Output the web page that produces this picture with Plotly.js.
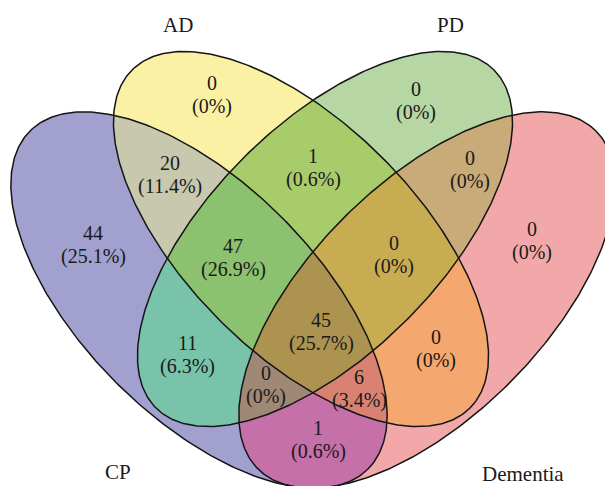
<!DOCTYPE html>
<html><head><meta charset="utf-8">
<script src="https://cdn.plot.ly/plotly-3.0.1.min.js"></script>
<style>html,body{margin:0;padding:0;background:#fff;} #chart{width:605px;height:486px;}</style>
</head><body><div id="chart"></div>
<script>
// ---- data ----
const setNames = ['CP', 'AD', 'PD', 'Dementia'];
// region id = bitmask of membership: CP=1, AD=2, PD=4, Dementia=8
const regionMasks  = [1, 2, 3, 4, 5, 6, 7, 8, 9, 10, 11, 12, 13, 14, 15];
const regionCounts = [44, 0, 20, 0, 11, 1, 47, 0, 1, 0, 6, 0, 0, 0, 45];

// ---- styles / geometry (pixel units) ----
const regionColors = ['#ffffff', '#a1a0cf', '#fbf1a5', '#c8c8ae', '#b6d7a3', '#78c3a9', '#a9cc6b', '#8bc16f',
                      '#f2a8a8', '#c570a9', '#f4a86f', '#d98271', '#c9aa79', '#a08877', '#c8ac52', '#ad9350'];
const ellipseGeom = [
  {cx: 199, cy: 300, a: 239, b: 117, ang: 45},
  {cx: 301, cy: 239, a: 239, b: 115, ang: 45},
  {cx: 325, cy: 239, a: 239, b: 115, ang: -45},
  {cx: 427, cy: 300, a: 239, b: 117, ang: -45}
];
const setLabelPos = [[118, 472], [178, 25], [450, 25], [523, 474]];
const regionLabelPos = {
  1: [93, 233], 2: [212, 83], 3: [170, 163], 4: [416, 89], 5: [187, 343], 6: [313, 156], 7: [233, 246],
  8: [532, 229], 9: [318, 428], 10: [436, 337], 11: [359, 377], 12: [470, 158], 13: [266, 373],
  14: [394, 243], 15: [321, 320]
};

const W = 605, H = 486;
function inside(e, x, y) {
  const t = e.ang * Math.PI / 180, dx = x - e.cx, dy = y - e.cy;
  const u = dx * Math.cos(t) + dy * Math.sin(t);
  const v = -dx * Math.sin(t) + dy * Math.cos(t);
  return (u * u) / (e.a * e.a) + (v * v) / (e.b * e.b) <= 1;
}
const xs = [], ys = [];
for (let i = 0; i < W; i++) xs.push(i + 0.5);
for (let j = 0; j < H; j++) ys.push(j + 0.5);
const z = ys.map(y => xs.map(x => {
  let m = 0;
  ellipseGeom.forEach((e, k) => { if (inside(e, x, y)) m |= (1 << k); });
  return m + 0.5;
}));
const cs = [];
regionColors.forEach((c, k) => { cs.push([k / 16, c]); cs.push([(k + 1) / 16, c]); });

const traces = [{
  type: 'heatmap', x: xs, y: ys, z: z, colorscale: cs, zmin: 0, zmax: 16,
  showscale: false, hoverinfo: 'skip', zsmooth: false
}];
ellipseGeom.forEach((e, k) => {
  const ex = [], ey = [];
  const t = e.ang * Math.PI / 180;
  for (let i = 0; i <= 400; i++) {
    const s = 2 * Math.PI * i / 400;
    const u = e.a * Math.cos(s), v = e.b * Math.sin(s);
    ex.push(e.cx + u * Math.cos(t) - v * Math.sin(t));
    ey.push(e.cy + u * Math.sin(t) + v * Math.cos(t));
  }
  traces.push({type: 'scatter', mode: 'lines', x: ex, y: ey, name: setNames[k],
    line: {color: '#151515', width: 1.5}, hoverinfo: 'skip', showlegend: false});
});

const total = regionCounts.reduce((s, v) => s + v, 0);
const font = {family: 'Liberation Serif, Times New Roman, serif', size: 20, color: '#1a1a1a'};
const annotations = [];
regionMasks.forEach((m, i) => {
  const [px, py] = regionLabelPos[m];
  const c = regionCounts[i];
  const pct = c === 0 ? '0%' : (c / total * 100).toFixed(1) + '%';
  annotations.push({x: px, y: py, text: String(c), showarrow: false, font: font, xanchor: 'center', yanchor: 'middle'});
  annotations.push({x: px, y: py + 23, text: '(' + pct + ')', showarrow: false, font: font, xanchor: 'center', yanchor: 'middle'});
});
setNames.forEach((n, k) => {
  annotations.push({x: setLabelPos[k][0], y: setLabelPos[k][1], text: n, showarrow: false,
    font: Object.assign({}, font, {size: 21}), xanchor: 'center', yanchor: 'middle'});
});

const layout = {
  width: W, height: H, margin: {l: 0, r: 0, t: 0, b: 0},
  paper_bgcolor: '#ffffff', plot_bgcolor: '#ffffff', showlegend: false,
  xaxis: {range: [0, W], visible: false, fixedrange: true},
  yaxis: {range: [H, 0], visible: false, fixedrange: true},
  annotations: annotations
};
Plotly.newPlot('chart', traces, layout, {staticPlot: true, displayModeBar: false});
</script></body></html>
